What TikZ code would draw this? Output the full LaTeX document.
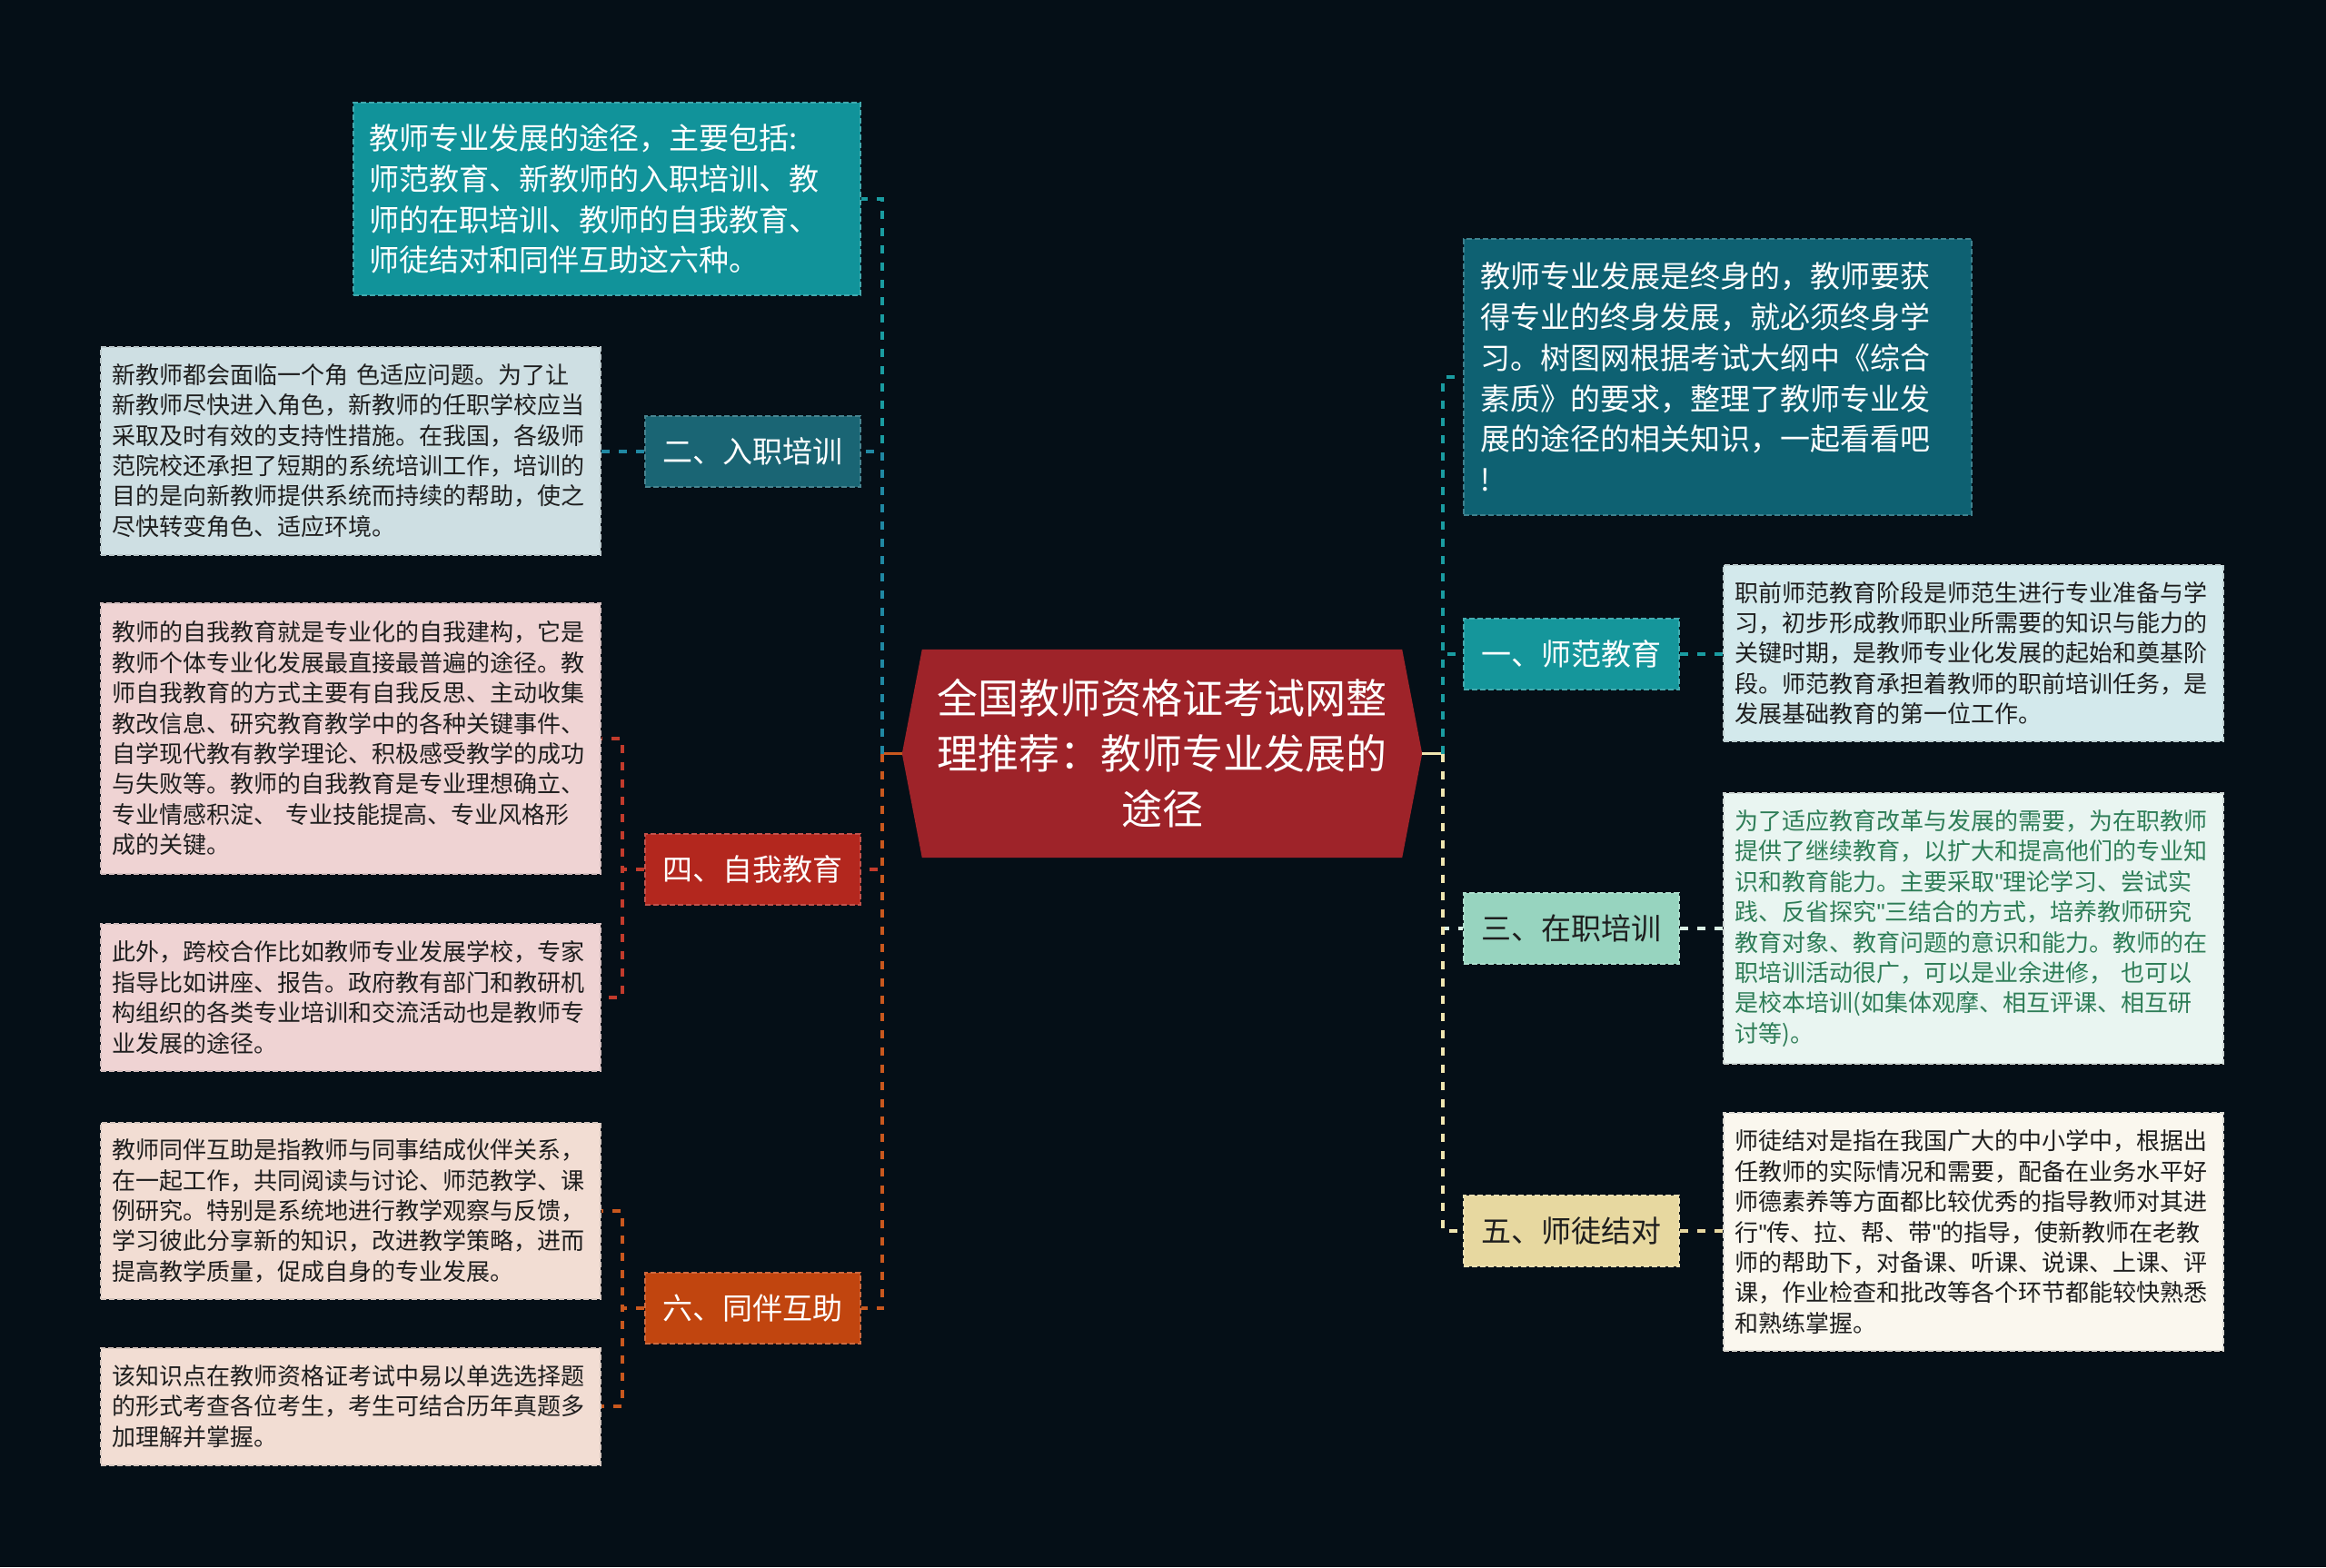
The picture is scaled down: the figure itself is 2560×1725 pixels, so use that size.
\documentclass[tikz,border=0pt]{standalone}
\usepackage{fontspec}
\setmainfont{Noto Sans CJK SC}
\newfontfamily\latinq{Liberation Sans}
\newcommand{\qq}{{\latinq\symbol{34}}}
\usetikzlibrary{backgrounds}
\definecolor{bgc}{HTML}{050F17}
\definecolor{rootred}{HTML}{9E2329}
\definecolor{topteal}{HTML}{11939A}
\definecolor{introteal}{HTML}{0E6172}
\definecolor{fone}{HTML}{15969B}
\definecolor{ftwo}{HTML}{1A6574}
\definecolor{fthree}{HTML}{97D4BF}
\definecolor{ffour}{HTML}{B3271E}
\definecolor{ffive}{HTML}{E7D8A0}
\definecolor{fsix}{HTML}{C1450F}
\definecolor{lone}{HTML}{D3E9EC}
\definecolor{ltwo}{HTML}{CEDFE3}
\definecolor{lthree}{HTML}{E9F5F1}
\definecolor{lfour}{HTML}{EFD3D3}
\definecolor{lfive}{HTML}{FAF7EE}
\definecolor{lsix}{HTML}{F2DDD3}
\definecolor{greentext}{HTML}{2E7D57}
\definecolor{textdark}{HTML}{1E1E1E}
\definecolor{cteal}{HTML}{1A9CA1}
\definecolor{cblue}{HTML}{2088A3}
\definecolor{cred}{HTML}{C23B2C}
\definecolor{corange}{HTML}{C9581E}
\definecolor{cmint}{HTML}{D9EFE4}
\definecolor{ccream}{HTML}{EFE5B0}
\tikzset{
  conn/.style={line width=3.5pt, dash pattern=on 9pt off 10pt},
  stub/.style={line width=3.5pt},
  branch/.style={minimum width=237pt, minimum height=78pt, inner sep=0pt,
    font=\fontsize{33}{40}\selectfont, line width=2pt, dash pattern=on 6pt off 3pt},
  leaf/.style={text width=525pt, inner xsep=12.5pt, inner ysep=0pt, minimum height=#1,
    align=left, font=\fontsize{26}{33.4}\selectfont, line width=2pt,
    dash pattern=on 6pt off 3pt, text=textdark},
  bigbox/.style={inner ysep=0pt, minimum height=#1, align=left,
    font=\fontsize{33}{44.7}\selectfont, line width=2pt,
    dash pattern=on 6pt off 3pt, text=white},
}
\begin{document}
\begin{tikzpicture}[x={(1pt,0)}, y={(0,-1pt)}]
\useasboundingbox (0,0) rectangle (2560,1725);
\begin{scope}[on background layer]
\fill[bgc] (0,0) rectangle (2560,1725);
\end{scope}

% root
\node[minimum width=572pt, minimum height=229pt, inner sep=0pt, align=center,
  text=white, font=\fontsize{45}{61}\selectfont] (root) at (1279,829.5)
  {全国教师资格证考试网整\\理推荐：教师专业发展的\\途径};
\begin{scope}[on background layer]
\fill[rootred] (root.west) -- ([xshift=22pt]root.north west) -- ([xshift=-22pt]root.north east)
  -- (root.east) -- ([xshift=-22pt]root.south east) -- ([xshift=22pt]root.south west) -- cycle;
\end{scope}

% left side
\node[bigbox=212pt, text width=524pt, inner xsep=17pt, fill=topteal, draw=topteal!80!white] (topbox) at (668,219)
 {教师专业发展的途径，主要包括:\\师范教育、新教师的入职培训、教\\师的在职培训、教师的自我教育、\\师徒结对和同伴互助这六种。};

\node[branch, fill=ftwo, draw=ftwo!80!white, text=white] (n2) at (828.5,497) {二、入职培训};
\node[leaf=229pt, fill=ltwo, draw=ltwo!75!gray] (t2) at (386,496)
 {新教师都会面临一个角 色适应问题。为了让\\新教师尽快进入角色，新教师的任职学校应当\\采取及时有效的支持性措施。在我国，各级师\\范院校还承担了短期的系统培训工作，培训的\\目的是向新教师提供系统而持续的帮助，使之\\尽快转变角色、适应环境。};

\node[branch, fill=ffour, draw=ffour!80!white, text=white] (n4) at (828.5,957) {四、自我教育};
\node[leaf=298pt, fill=lfour, draw=lfour!75!gray] (t4a) at (386,813)
 {教师的自我教育就是专业化的自我建构，它是\\教师个体专业化发展最直接最普遍的途径。教\\师自我教育的方式主要有自我反思、主动收集\\教改信息、研究教育教学中的各种关键事件、\\自学现代教有教学理论、积极感受教学的成功\\与失败等。教师的自我教育是专业理想确立、\\专业情感积淀、 专业技能提高、专业风格形\\成的关键。};
\node[leaf=162pt, fill=lfour, draw=lfour!75!gray] (t4b) at (386,1098)
 {此外，跨校合作比如教师专业发展学校，专家\\指导比如讲座、报告。政府教有部门和教研机\\构组织的各类专业培训和交流活动也是教师专\\业发展的途径。};

\node[branch, fill=fsix, draw=fsix!80!white, text=white] (n6) at (828.5,1440) {六、同伴互助};
\node[leaf=194pt, fill=lsix, draw=lsix!75!gray] (t6a) at (386,1333)
 {教师同伴互助是指教师与同事结成伙伴关系，\\在一起工作，共同阅读与讨论、师范教学、课\\例研究。特别是系统地进行教学观察与反馈，\\学习彼此分享新的知识，改进教学策略，进而\\提高教学质量，促成自身的专业发展。};
\node[leaf=129pt, fill=lsix, draw=lsix!75!gray] (t6b) at (386,1548)
 {该知识点在教师资格证考试中易以单选选择题\\的形式考查各位考生，考生可结合历年真题多\\加理解并掌握。};

% right side
\node[bigbox=304pt, text width=523pt, inner xsep=18pt, fill=introteal, draw=introteal!80!white] (intro) at (1890.5,415)
 {教师专业发展是终身的，教师要获\\得专业的终身发展，就必须终身学\\习。树图网根据考试大纲中《综合\\素质》的要求，整理了教师专业发\\展的途径的相关知识，一起看看吧\\!};

\node[branch, fill=fone, draw=fone!80!white, text=white] (n1) at (1729.5,720) {一、师范教育};
\node[leaf=194pt, fill=lone, draw=lone!75!gray] (t1) at (2172,719)
 {职前师范教育阶段是师范生进行专业准备与学\\习，初步形成教师职业所需要的知识与能力的\\关键时期，是教师专业化发展的起始和奠基阶\\段。师范教育承担着教师的职前培训任务，是\\发展基础教育的第一位工作。};

\node[branch, fill=fthree, draw=fthree!80!white, text=textdark] (n3) at (1729.5,1022) {三、在职培训};
\node[leaf=298pt, fill=lthree, draw=lthree!75!gray, text=greentext] (t3) at (2172,1022)
 {为了适应教育改革与发展的需要，为在职教师\\提供了继续教育，以扩大和提高他们的专业知\\识和教育能力。主要采取\qq 理论学习、尝试实\\践、反省探究\qq 三结合的方式，培养教师研究\\教育对象、教育问题的意识和能力。教师的在\\职培训活动很广，可以是业余进修， 也可以\\是校本培训(如集体观摩、相互评课、相互研\\讨等)。};

\node[branch, fill=ffive, draw=ffive!80!white, text=textdark] (n5) at (1729.5,1355) {五、师徒结对};
\node[leaf=262pt, fill=lfive, draw=lfive!75!gray] (t5) at (2172,1356)
 {师徒结对是指在我国广大的中小学中，根据出\\任教师的实际情况和需要，配备在业务水平好\\师德素养等方面都比较优秀的指导教师对其进\\行\qq 传、拉、帮、带\qq 的指导，使新教师在老教\\师的帮助下，对备课、听课、说课、上课、评\\课，作业检查和批改等各个环节都能较快熟悉\\和熟练掌握。};

% trunks
\coordinate (L) at (971,829.5);
\coordinate (R) at (1588,829.5);
\draw[stub, corange] (root.west) -- (L);
\draw[conn, cteal] (L) |- (topbox.east);
\draw[conn, cblue] (L) |- (n2.east);
\draw[conn, cred] (L) |- (n4.east);
\draw[conn, corange] (L) |- (n6.east);

\draw[stub, ccream] (root.east) -- (R);
\draw[conn, cteal] (R) |- (intro.west);
\draw[conn, cteal] (R) |- (n1.west);
\draw[conn, cmint] (R) |- (n3.west);
\draw[conn, ccream] (R) |- (n5.west);

% sub connectors
\draw[conn, cblue] (n2.west) -- (n2.west -| t2.east);
\draw[conn, cred] (n4.west) -- ++(-24,0) |- (t4a.east);
\draw[conn, cred] (n4.west) -- ++(-24,0) |- (t4b.east);
\draw[conn, corange] (n6.west) -- ++(-24,0) |- (t6a.east);
\draw[conn, corange] (n6.west) -- ++(-24,0) |- (t6b.east);
\draw[conn, cteal] (n1.east) -- (n1.east -| t1.west);
\draw[conn, cmint] (n3.east) -- (n3.east -| t3.west);
\draw[conn, ffive] (n5.east) -- (n5.east -| t5.west);
\end{tikzpicture}
\end{document}
